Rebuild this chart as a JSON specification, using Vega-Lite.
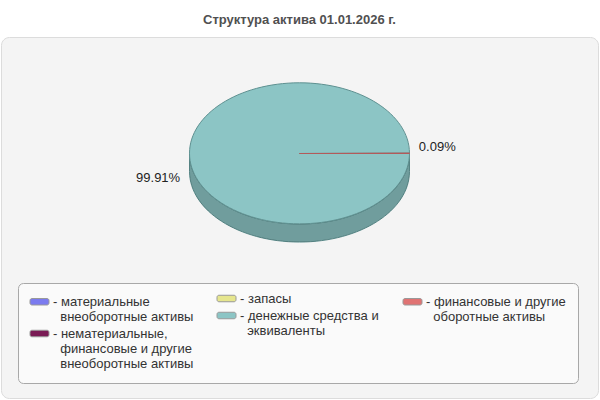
{
  "$schema": "https://vega.github.io/schema/vega-lite/v6.json",
  "width": 597,
  "height": 361,
  "autosize": "none",
  "padding": {"left": 1, "top": 37, "right": 2, "bottom": 2},
  "background": "#ffffff",
  "title": {
    "text": "Структура актива 01.01.2026 г.",
    "font": "Liberation Sans",
    "fontSize": 13,
    "fontWeight": "bold",
    "color": "#505050",
    "anchor": "middle",
    "offset": 10
  },
  "data": {
    "values": [
      {"category": "материальные внеоборотные активы", "value": 0},
      {"category": "нематериальные, финансовые и другие внеоборотные активы", "value": 0},
      {"category": "запасы", "value": 0},
      {"category": "денежные средства и эквиваленты", "value": 99.91},
      {"category": "финансовые и другие оборотные активы", "value": 0.09}
    ]
  },
  "transform": [
    {"joinaggregate": [{"op": "sum", "field": "value", "as": "total"}]},
    {"filter": "datum.value > 0"},
    {"stack": "value", "groupby": [], "as": ["v0", "v1"]},
    {"calculate": "2 * PI * datum.v0 / datum.total", "as": "a0"},
    {"calculate": "2 * PI * datum.v1 / datum.total", "as": "a1"},
    {"calculate": "min(datum.a1, PI)", "as": "b1"},
    {"calculate": "(datum.a0 + datum.a1) / 2", "as": "mid"},
    {"calculate": "datum.value / datum.total", "as": "share"},
    {"calculate": "1.085 * cos(datum.mid)", "as": "lx"},
    {"calculate": "-0.7 * sin(datum.mid)", "as": "ly"},
    {
      "calculate": "'M0,0 L' + round(10000 * cos(datum.a0)) / 10000 + ',' + round(6410 * sin(datum.a0)) / 10000 + ' A1,0.641 0 ' + (datum.a1 - datum.a0 > PI ? '1' : '0') + ' 1 ' + round(10000 * cos(datum.a1)) / 10000 + ',' + round(6410 * sin(datum.a1)) / 10000 + ' Z'",
      "as": "top_path"
    },
    {
      "calculate": "'M' + round(10000 * cos(datum.a0)) / 10000 + ',' + round(6410 * sin(datum.a0)) / 10000 + ' A1,0.641 0 0 1 ' + round(10000 * cos(datum.b1)) / 10000 + ',' + round(6410 * sin(datum.b1)) / 10000 + ' L' + round(10000 * cos(datum.b1)) / 10000 + ',' + round(6410 * sin(datum.b1) + 1640) / 10000 + ' A1,0.641 0 0 0 ' + round(10000 * cos(datum.a0)) / 10000 + ',' + round(6410 * sin(datum.a0) + 1640) / 10000 + ' Z'",
      "as": "side_path"
    }
  ],
  "layer": [
    {
      "transform": [{"filter": "datum.a0 < PI"}],
      "mark": {"type": "point", "filled": true, "opacity": 1, "size": 48400, "strokeWidth": 1},
      "encoding": {
        "x": {"datum": 0, "type": "quantitative", "scale": {"domain": [-2.7136, 2.7136], "nice": false, "zero": false}, "axis": null},
        "y": {"datum": 0, "type": "quantitative", "scale": {"domain": [-2.2227, 1.0591], "nice": false, "zero": false}, "axis": null},
        "shape": {"field": "side_path", "type": "nominal", "scale": null},
        "fill": {
          "field": "category",
          "type": "nominal",
          "scale": {
            "domain": ["материальные внеоборотные активы", "нематериальные, финансовые и другие внеоборотные активы", "запасы", "денежные средства и эквиваленты", "финансовые и другие оборотные активы"],
            "range": ["#7b7bef", "#7a1b55", "#e6e68e", "#8cc5c5", "#e07373"]
          },
          "legend": {
            "title": null,
            "orient": "none",
            "legendX": 216,
            "legendY": 255,
            "zindex": 1,
            "values": ["запасы", "денежные средства и эквиваленты"],
            "direction": "vertical",
            "rowPadding": 3,
            "padding": 0,
            "symbolType": "M-1.5,-0.65 L1.5,-0.65 A0.4,0.4 0 0 1 1.9,-0.25 L1.9,0.25 A0.4,0.4 0 0 1 1.5,0.65 L-1.5,0.65 A0.4,0.4 0 0 1 -1.9,0.25 L-1.9,-0.25 A0.4,0.4 0 0 1 -1.5,-0.65 Z",
            "symbolSize": 100,
            "symbolOffset": 3,
            "symbolStrokeColor": "#999999",
            "symbolStrokeWidth": 1,
            "symbolOpacity": 1,
            "labelFont": "Liberation Sans",
            "labelFontSize": 13,
            "labelColor": "#333333",
            "labelOffset": 7,
            "labelLimit": 300,
            "labelExpr": "datum.label == 'денежные средства и эквиваленты' ? ['- денежные средства и', '\u200b\u00a0\u00a0эквиваленты'] : '- ' + datum.label"
          }
        },
        "stroke": {
          "field": "category",
          "type": "nominal",
          "scale": {
            "domain": ["финансовые и другие оборотные активы", "денежные средства и эквиваленты", "запасы", "нематериальные, финансовые и другие внеоборотные активы", "материальные внеоборотные активы"],
            "range": ["#b35a5a", "#5f9191", "#b0b062", "#551038", "#5757b8"]
          },
          "legend": null
        }
      }
    },
    {
      "transform": [{"filter": "datum.a0 < PI"}],
      "mark": {"type": "point", "filled": true, "fill": "#000000", "fillOpacity": 0.2, "strokeOpacity": 0, "size": 48400},
      "encoding": {
        "x": {"datum": 0, "type": "quantitative"},
        "y": {"datum": 0, "type": "quantitative"},
        "shape": {"field": "side_path", "type": "nominal", "scale": null}
      }
    },
    {
      "mark": {"type": "point", "filled": true, "opacity": 1, "size": 48400, "strokeWidth": 1},
      "encoding": {
        "x": {"datum": 0, "type": "quantitative"},
        "y": {"datum": 0, "type": "quantitative"},
        "shape": {"field": "top_path", "type": "nominal", "scale": null},
        "color": {
          "field": "category",
          "type": "nominal",
          "scale": {
            "domain": ["материальные внеоборотные активы", "запасы", "финансовые и другие оборотные активы", "нематериальные, финансовые и другие внеоборотные активы", "денежные средства и эквиваленты"],
            "range": ["#7b7bef", "#e6e68e", "#e07373", "#7a1b55", "#8cc5c5"]
          },
          "legend": {
            "title": null,
            "orient": "none",
            "legendX": 17,
            "legendY": 246,
            "zindex": 0,
            "values": ["материальные внеоборотные активы", "финансовые и другие оборотные активы", "нематериальные, финансовые и другие внеоборотные активы"],
            "columns": 2,
            "direction": "horizontal",
            "columnPadding": 207,
            "rowPadding": 3,
            "padding": 12,
            "fillColor": "#fafafa",
            "strokeColor": "#a8a8a8",
            "cornerRadius": 5,
            "symbolType": "M-1.5,-0.65 L1.5,-0.65 A0.4,0.4 0 0 1 1.9,-0.25 L1.9,0.25 A0.4,0.4 0 0 1 1.5,0.65 L-1.5,0.65 A0.4,0.4 0 0 1 -1.9,0.25 L-1.9,-0.25 A0.4,0.4 0 0 1 -1.5,-0.65 Z",
            "symbolSize": 100,
            "symbolOffset": 3,
            "symbolStrokeColor": "#999999",
            "symbolStrokeWidth": 1,
            "symbolOpacity": 1,
            "labelFont": "Liberation Sans",
            "labelFontSize": 13,
            "labelColor": "#333333",
            "labelOffset": 7,
            "labelLimit": 300,
            "labelExpr": "datum.label == 'материальные внеоборотные активы' ? ['- материальные', '\u200b\u00a0\u00a0внеоборотные активы'] : datum.label == 'нематериальные, финансовые и другие внеоборотные активы' ? ['- нематериальные,', '\u200b\u00a0\u00a0финансовые и другие', '\u200b\u00a0\u00a0внеоборотные активы'] : datum.label == 'финансовые и другие оборотные активы' ? ['- финансовые и другие', '\u200b\u00a0\u00a0оборотные активы'] : '- ' + datum.label"
          }
        },
        "stroke": {"field": "category", "type": "nominal", "legend": null}
      }
    },
    {
      "transform": [{"filter": "cos(datum.mid) < 0"}],
      "mark": {"type": "text", "align": "right", "baseline": "middle", "dy": 24, "font": "Liberation Sans", "fontSize": 13, "color": "#222222"},
      "encoding": {
        "x": {"field": "lx", "type": "quantitative"},
        "y": {"field": "ly", "type": "quantitative"},
        "text": {"field": "share", "type": "quantitative", "format": ".2%"}
      }
    },
    {
      "transform": [{"filter": "cos(datum.mid) >= 0"}],
      "mark": {"type": "text", "align": "left", "baseline": "middle", "dy": -6, "font": "Liberation Sans", "fontSize": 13, "color": "#222222"},
      "encoding": {
        "x": {"field": "lx", "type": "quantitative"},
        "y": {"field": "ly", "type": "quantitative"},
        "text": {"field": "share", "type": "quantitative", "format": ".2%"}
      }
    }
  ],
  "config": {
    "font": "Liberation Sans",
    "view": {"fill": "#f4f4f4", "stroke": "#dcdcdc", "strokeWidth": 1, "cornerRadius": 8}
  }
}
